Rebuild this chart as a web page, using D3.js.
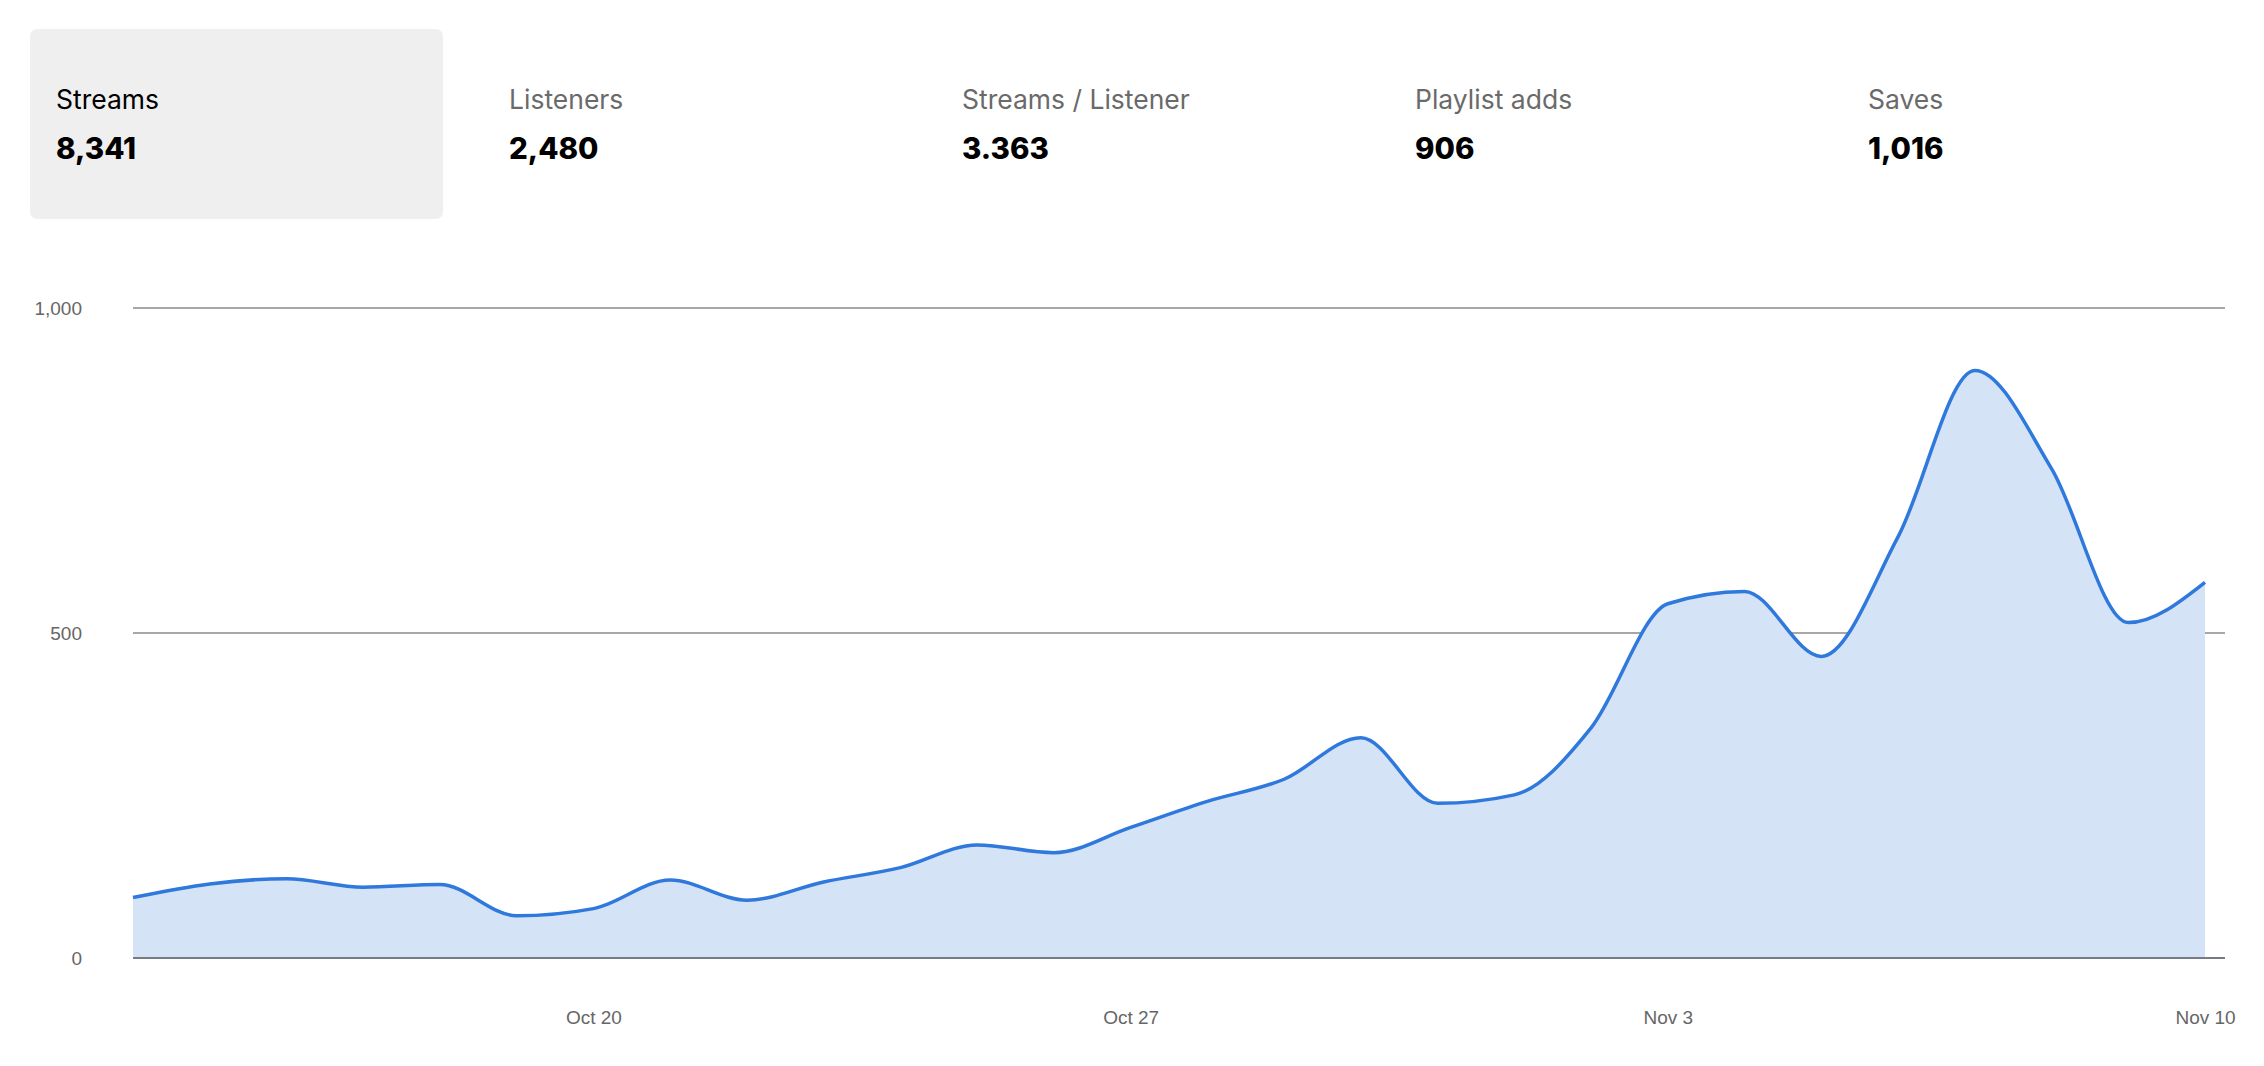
<!DOCTYPE html>
<html>
<head>
<meta charset="utf-8">
<script src="https://cdn.jsdelivr.net/npm/d3@7"></script>
<style>
  html, body { margin: 0; padding: 0; background: #fff; }
  svg { display: block; }
</style>
</head>
<body>
<svg id="chart" width="2264" height="1066"></svg>
<script>
// ---- data ----
const metricNames = ["Streams", "Listeners", "Streams / Listener", "Playlist adds", "Saves"];
const metricValues = ["8,341", "2,480", "3.363", "906", "1,016"];
const selectedMetric = 0;

const startDate = "2024-10-14";
const streams = [93, 114, 122, 109, 113, 65, 76, 120, 89, 117, 139, 174, 162, 201,
                 241, 275, 339, 238, 251, 354, 545, 564, 464, 648, 904, 753, 516, 578];
const yTicks = [0, 500, 1000];
const xTickDates = ["2024-10-20", "2024-10-27", "2024-11-03", "2024-11-10"];

(function () {
// ---- layout ----
const svg = d3.select("#chart");
const parse = d3.timeParse("%Y-%m-%d");
const t0 = parse(startDate);
const dates = streams.map((_, i) => d3.timeDay.offset(t0, i));
const data = dates.map((d, i) => ({ date: d, value: streams[i] }));

// header cards
const cardX0 = 30, cardStep = 453, cardW = 413;
const cards = svg.append("g").attr("class", "cards");
const card = cards.selectAll("g").data(metricNames).join("g")
  .attr("transform", (d, i) => `translate(${cardX0 + i * cardStep},29)`);
card.filter((d, i) => i === selectedMetric).append("rect")
  .attr("width", cardW).attr("height", 190).attr("rx", 7).attr("fill", "#efefef");
card.append("text")
  .attr("x", 26).attr("y", 80)
  .attr("font-family", "Inter, 'Noto Sans', sans-serif")
  .attr("font-size", 26.5)
  .attr("fill", (d, i) => i === selectedMetric ? "#000" : "#6a6a6a")
  .text(d => d);
card.append("text")
  .attr("x", 26).attr("y", 130)
  .attr("font-family", "Inter, 'Noto Sans', sans-serif")
  .attr("font-size", 29.5).attr("font-weight", 800)
  .attr("fill", "#000")
  .text((d, i) => metricValues[i]);

// chart
const pLeft = 133, pRight = 2225, pTop = 308, pBottom = 958;
const xEnd = 2205;
const x = d3.scaleTime().domain(d3.extent(dates)).range([pLeft, xEnd]);
const y = d3.scaleLinear().domain([0, 1000]).range([pBottom, pTop]);

const g = svg.append("g");

// gridlines
g.append("g").selectAll("line").data(yTicks.filter(v => v !== 0)).join("line")
  .attr("x1", pLeft).attr("x2", pRight)
  .attr("y1", d => y(d)).attr("y2", d => y(d))
  .attr("stroke", "#8a8a8a").attr("stroke-width", 1.5);

// area + line
const area = d3.area().curve(d3.curveMonotoneX)
  .x(d => x(d.date)).y0(y(0)).y1(d => y(d.value));
const line = d3.line().curve(d3.curveMonotoneX)
  .x(d => x(d.date)).y(d => y(d.value));

g.append("path").datum(data).attr("d", area).attr("fill", "#d5e3f6");
g.append("path").datum(data).attr("d", line)
  .attr("fill", "none").attr("stroke", "#2f78dc").attr("stroke-width", 3.5)
  .attr("stroke-linejoin", "round");

// baseline
g.append("line").attr("x1", pLeft).attr("x2", pRight)
  .attr("y1", y(0)).attr("y2", y(0))
  .attr("stroke", "#767b84").attr("stroke-width", 2);

// y axis labels
const yAxis = d3.axisLeft(y).tickValues(yTicks).tickSize(0).tickPadding(0)
  .tickFormat(d3.format(","));
const ya = g.append("g").attr("transform", `translate(82,0)`).call(yAxis);
ya.select(".domain").remove();
ya.selectAll("text")
  .attr("font-family", "'Liberation Sans', Arial, sans-serif")
  .attr("font-size", 19).attr("fill", "#666");

// x axis labels
const xAxis = d3.axisBottom(x).tickValues(xTickDates.map(parse)).tickSize(0).tickPadding(0)
  .tickFormat(d3.timeFormat("%b %-d"));
const xa = g.append("g").attr("transform", `translate(0,1010)`).call(xAxis);
xa.select(".domain").remove();
xa.selectAll("text")
  .attr("font-family", "'Liberation Sans', Arial, sans-serif")
  .attr("font-size", 19).attr("fill", "#666");
})();
</script>
</body>
</html>
